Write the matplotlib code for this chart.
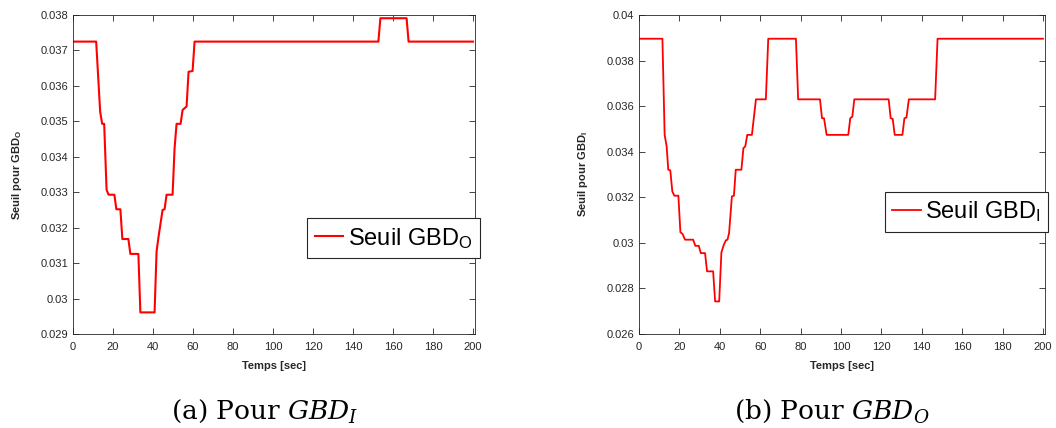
import matplotlib
matplotlib.use("Agg")
import matplotlib.pyplot as plt

# seuil GBD_O (gauche) : points de rupture
t_left = [0, 11.6, 13.6, 14.6, 15.6, 16.8, 17.8, 20.7, 21.7, 23.7, 24.7, 27.7, 28.7,
          32.7, 33.7, 40.8, 41.8, 42.8, 44.8, 45.8, 46.8, 49.8, 50.8, 51.8, 53.8,
          54.8, 56.8, 57.8, 59.8, 60.8, 152.7, 153.7, 166.8, 167.8, 200]
v_left = [0.03725, 0.03725, 0.03527, 0.03493, 0.03493, 0.03307, 0.03293, 0.03293,
          0.03252, 0.03252, 0.03168, 0.03168, 0.03126, 0.03126, 0.02961, 0.02961,
          0.03133, 0.03175, 0.03250, 0.03252, 0.03293, 0.03293, 0.03424, 0.03493,
          0.03493, 0.03532, 0.03542, 0.03640, 0.03642, 0.03725, 0.03725, 0.03791,
          0.03791, 0.03725, 0.03725]

# seuil GBD_I (droite)
t_right = [0, 11.6, 12.7, 13.7, 14.5, 15.5, 16.5, 17.5, 19.5, 20.5, 21.5, 22.8, 26.8,
           27.9, 29.6, 30.6, 32.7, 33.7, 36.7, 37.7, 39.7, 40.8, 42.0, 43.0, 43.8,
           44.6, 46.0, 47.0, 47.9, 50.7, 51.7, 52.6, 53.6, 55.9, 57.9, 62.8, 64.0,
           77.7, 78.8, 89.6, 90.6, 91.6, 92.9, 103.6, 104.6, 105.6, 106.6, 123.6,
           124.6, 125.6, 126.6, 130.4, 131.4, 132.4, 133.6, 146.6, 147.8, 200]
v_right = [0.03896, 0.03896, 0.03474, 0.03423, 0.03321, 0.03318, 0.03226, 0.03207,
           0.03207, 0.03046, 0.03040, 0.03014, 0.03014, 0.02987, 0.02987, 0.02955,
           0.02955, 0.02875, 0.02875, 0.02743, 0.02743, 0.02958, 0.02992, 0.03011,
           0.03014, 0.03043, 0.03204, 0.03207, 0.03321, 0.03321, 0.03416, 0.03423,
           0.03474, 0.03474, 0.03630, 0.03630, 0.03896, 0.03896, 0.03630, 0.03630,
           0.03547, 0.03547, 0.03474, 0.03474, 0.03547, 0.03554, 0.03630, 0.03630,
           0.03547, 0.03544, 0.03474, 0.03474, 0.03547, 0.03550, 0.03630, 0.03630,
           0.03896, 0.03896]

plt.rcParams['font.family'] = ['Liberation Sans', 'DejaVu Sans']
plt.rcParams['mathtext.fontset'] = 'custom'
plt.rcParams['mathtext.rm'] = 'Liberation Sans'
plt.rcParams['mathtext.it'] = 'Liberation Sans'
plt.rcParams['mathtext.bf'] = 'Liberation Sans:bold'

fig = plt.figure(figsize=(10.56, 4.28), dpi=100)
ax1 = fig.add_axes([0.0691, 0.2196, 0.3807, 0.7453])
ax2 = fig.add_axes([0.6051, 0.2196, 0.3845, 0.7453])

gray = '#262626'


def style_axes(ax, ylim, yticks, yticklabels):
  ax.set_xlim(0, 201)
  ax.set_xticks(range(0, 201, 20))
  ax.set_ylim(*ylim)
  ax.set_yticks(yticks)
  ax.set_yticklabels(yticklabels)
  ax.tick_params(direction='in', top=True, right=True, labelsize=8,
                 colors=gray, length=4, width=0.6)
  ax.tick_params(axis='x', pad=6)
  for s in ax.spines.values():
    s.set_color(gray)
    s.set_linewidth(0.6)
  ax.set_xlabel('Temps [sec]', fontsize=8, fontweight='bold', color=gray, labelpad=6)


def add_legend(ax, anchor):
  leg = ax.legend(loc='lower left', bbox_to_anchor=anchor, fontsize=17,
                  handlelength=1.2, handletextpad=0.2, borderpad=0.32,
                  fancybox=False, framealpha=1, edgecolor=gray, borderaxespad=0)
  leg.get_frame().set_linewidth(0.8)


ax1.plot(t_left, v_left, color='#ff0000', lw=1.5, label='Seuil GBD$_\\mathregular{O}$')
yt1 = [0.029 + 0.001 * i for i in range(10)]
style_axes(ax1, (0.029, 0.038), yt1, ['%g' % round(v, 3) for v in yt1])
ax1.set_ylabel('Seuil pour GBD$_\\mathbf{O}$', fontsize=8, fontweight='bold', color=gray, labelpad=12)
add_legend(ax1, (0.582, 0.238))

ax2.plot(t_right, v_right, color='#ff0000', lw=1.3, label='Seuil GBD$_\\mathregular{I}$')
yt2 = [0.026 + 0.002 * i for i in range(8)]
style_axes(ax2, (0.026, 0.040), yt2, ['%g' % round(v, 3) for v in yt2])
ax2.set_ylabel('Seuil pour GBD$_\\mathbf{I}$', fontsize=8, fontweight='bold', color=gray, labelpad=12)
add_legend(ax2, (0.605, 0.32))

cap = dict(fontsize=19, ha='center', va='center', family='DejaVu Serif',
           math_fontfamily='dejavuserif')
fig.text(0.251, 0.040, '(a) Pour $GBD_I$', **cap)
fig.text(0.788, 0.040, '(b) Pour $GBD_O$', **cap)

fig.savefig('out.png', dpi=100)
